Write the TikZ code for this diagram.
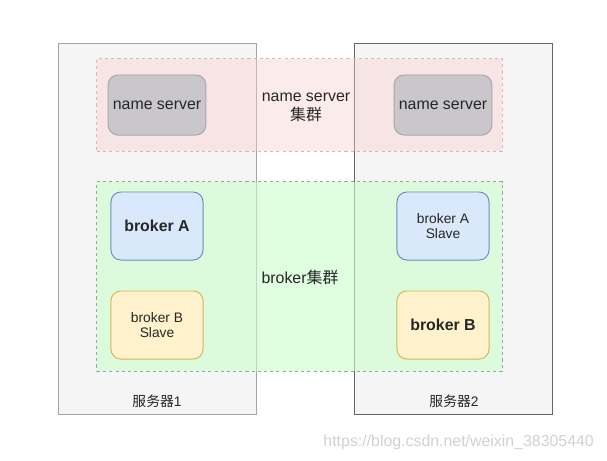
\documentclass[tikz,border=0pt]{standalone}
\usepackage{fontspec}
\setmainfont{Liberation Sans}
\newfontfamily\cjk{Noto Sans CJK SC}
\definecolor{srvfill}{HTML}{F5F5F5}
\definecolor{srvline}{HTML}{666666}
\definecolor{nsfill}{HTML}{F8CECC}
\definecolor{nsline}{HTML}{E8B0B0}
\definecolor{bkfill}{HTML}{CCFFCC}
\definecolor{bkline}{HTML}{98A898}
\definecolor{namefill}{HTML}{C9C7CB}
\definecolor{nameline}{HTML}{A8A8AC}
\definecolor{bluefill}{HTML}{DAE8FC}
\definecolor{blueline}{HTML}{6C8EBF}
\definecolor{yellowfill}{HTML}{FFF2CC}
\definecolor{yellowline}{HTML}{D6B656}
\begin{document}
\begin{tikzpicture}[x=0.025cm, y=-0.025cm, line width=0.7pt,
    every node/.style={font=\fontsize{11.3}{13.5}\selectfont, text=black!85},
    server/.style={rectangle, draw=srvline, fill=srvfill, minimum width=4.925cm, minimum height=9.25cm},
    cluster/.style={rectangle, dash pattern=on 2.2pt off 2.2pt, minimum width=10.125cm},
    box/.style={rectangle, rounded corners=7pt, align=center},
    small/.style={font=\fontsize{9.8}{11.1}\selectfont}]
  \useasboundingbox (0,0) rectangle (607,461);
  % Servers
  \node[server, draw=srvline!60] (srv1) at (157.5,229) {};
  \node[server] (srv2) at (453.5,229) {};
  \node[small] (srv1label) at (157,401) {{\cjk 服务器}1};
  \node[small] (srv2label) at (454,401) {{\cjk 服务器}2};
  % Clusters
  \node[cluster, draw=nsline, fill=nsfill, fill opacity=0.4, minimum height=2.3cm] (nscluster) at (299.5,105) {};
  \node[cluster, draw=bkline, fill=bkfill, fill opacity=0.6, minimum height=4.725cm] (bkcluster) at (299.5,276.5) {};
  \node[align=center] (nslabel) at (306,107) {name server\\{\cjk 集群}};
  \node (bklabel) at (300,277) {broker{\cjk 集群}};
  % Name servers
  \node[box, draw=nameline, fill=namefill, minimum width=2.4cm, minimum height=1.5cm] (ns1) at (157,105) {name server};
  \node[box, draw=nameline, fill=namefill, minimum width=2.4cm, minimum height=1.5cm] (ns2) at (443,105) {name server};
  % Brokers
  \node[box, draw=blueline, fill=bluefill, minimum width=2.3cm, minimum height=1.7cm, font=\fontsize{11.3}{13.5}\selectfont\bfseries] (brokerA) at (157,226) {broker A};
  \node[box, small, draw=yellowline, fill=yellowfill, minimum width=2.3cm, minimum height=1.7cm] (slaveB) at (157,325) {broker B\\Slave};
  \node[box, small, draw=blueline, fill=bluefill, minimum width=2.3cm, minimum height=1.7cm] (slaveA) at (443,226) {broker A\\Slave};
  \node[box, draw=yellowline, fill=yellowfill, minimum width=2.3cm, minimum height=1.7cm, font=\fontsize{11.3}{13.5}\selectfont\bfseries] (brokerB) at (443,325) {broker B};
  % Watermark
  \node[anchor=east, text=black!18] (mark) at (599,442) {https://blog.csdn.net/weixin\_38305440};
\end{tikzpicture}
\end{document}
